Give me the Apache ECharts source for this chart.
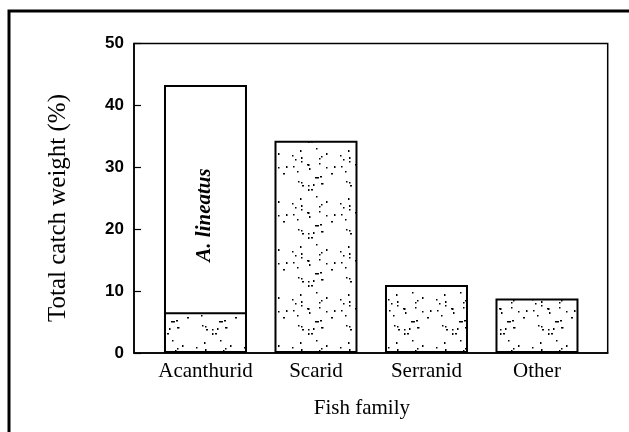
<!DOCTYPE html>
<html>
<head>
<meta charset="utf-8">
<script src="https://cdn.jsdelivr.net/npm/echarts@6/dist/echarts.min.js"></script>
<style>html,body{margin:0;padding:0;background:#fff;}#c{width:629px;height:432px;}</style>
</head>
<body>
<div id="c"></div>
<script>
// ---- data ----
const categories = ['Acanthurid', 'Scarid', 'Serranid', 'Other'];
const otherSpecies = [6.6, 34.3, 11.0, 8.8];      // stippled part
const lineatus = [36.7, null, null, null];        // A. lineatus (white part of Acanthurid)
const yTicks = [0, 10, 20, 30, 40, 50];

// stipple texture (styling only)
function stipple() {
  const c = document.createElement('canvas');
  c.width = 48; c.height = 48;
  const g = c.getContext('2d');
  g.fillStyle = '#fff'; g.fillRect(0, 0, 48, 48);
  g.fillStyle = '#000';
  let s = 12345;
  const next = () => { s = (s * 1103515245 + 12345) % 2147483648; return s / 2147483648; };
  for (let i = 0; i < 30; i++) {
    const x = Math.floor(next() * 48), y = Math.floor(next() * 48);
    const w = next() < 0.3 ? 2 : 1.5, h = next() < 0.3 ? 2 : 1.5;
    g.fillRect(x, y, w, h);
  }
  return c;
}

// totals = stippled part + A. lineatus part (for the white upper segment)
const totals = lineatus.map((v, i) => v == null ? null : +(v + otherSpecies[i]).toFixed(2));

const chart = echarts.init(document.getElementById('c'), null, { renderer: 'canvas' });
const serif = '"Liberation Serif", "Times New Roman", serif';
const sans = '"Liberation Sans", Arial, sans-serif';

chart.setOption({
  animation: false,
  backgroundColor: '#fff',
  graphic: [
    { type: 'rect', shape: { x: 9, y: 11, width: 700, height: 500 },
      style: { fill: 'none', stroke: '#000', lineWidth: 3 } },
    { type: 'text', rotation: Math.PI / 2, x: 58, y: 208,
      style: { text: 'Total catch weight (%)', font: '25px ' + serif, fill: '#000',
               align: 'center', verticalAlign: 'middle' } }
  ],
  grid: { left: 134, top: 43.5, right: 21.3, bottom: 79, show: true,
          borderColor: '#000', borderWidth: 1.5, backgroundColor: 'transparent' },
  xAxis: {
    type: 'value', min: -0.647, max: 3.64,
    splitLine: { show: false },
    axisTick: { show: false },
    axisLine: { show: true, onZero: false, lineStyle: { color: '#000', width: 1.5 } },
    axisLabel: {
      customValues: [0, 1, 2, 3],
      formatter: v => categories[Math.round(v)] || '',
      color: '#000', fontFamily: serif, fontSize: 21, margin: 8
    },
    name: 'Fish family', nameLocation: 'middle', nameGap: 45,
    nameTextStyle: { color: '#000', fontFamily: serif, fontSize: 21, padding: [0, 18, 0, 0] }
  },
  yAxis: {
    type: 'value', min: 0, max: 50, interval: 10,
    splitLine: { show: false },
    axisLine: { show: true, onZero: false, lineStyle: { color: '#000', width: 1.5 } },
    axisTick: { show: true, inside: true, length: 7, lineStyle: { color: '#000', width: 1.2 } },
    axisLabel: { color: '#000', fontFamily: sans, fontWeight: 'bold', fontSize: 17, margin: 10,
                 formatter: v => yTicks.includes(v) ? String(v) : '' }
  },
  series: [
    {
      name: 'A. lineatus', type: 'bar', barWidth: 83, barGap: '-100%',
      data: totals.map((v, i) => [i, v]).filter(d => d[1] != null),
      itemStyle: { color: '#fff', borderColor: '#000', borderWidth: 2 },
      label: { show: true, position: 'inside', rotate: 90, offset: [4, -1],
               formatter: 'A. lineatus', color: '#000', fontFamily: serif,
               fontStyle: 'italic', fontWeight: 'bold', fontSize: 21 },
      z: 2
    },
    {
      name: 'Other species', type: 'bar', barWidth: 83, barGap: '-100%',
      data: otherSpecies.map((v, i) => [i, v]),
      itemStyle: { color: { image: stipple(), repeat: 'repeat' }, borderColor: '#000', borderWidth: 2 },
      z: 3
    }
  ]
});
</script>
</body>
</html>
